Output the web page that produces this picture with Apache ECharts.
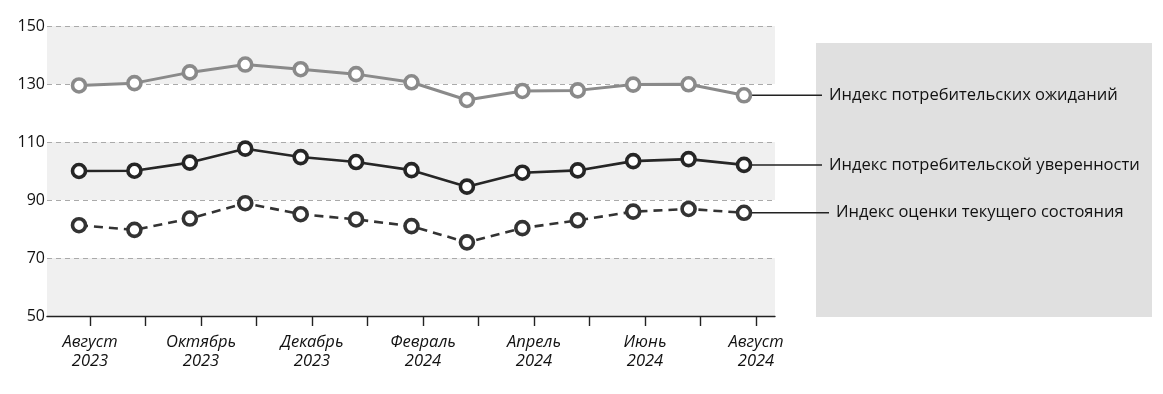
<!DOCTYPE html>
<html>
<head>
<meta charset="utf-8">
<script src="https://cdn.jsdelivr.net/npm/echarts@6/dist/echarts.min.js"></script>
<style>
  html, body { margin: 0; padding: 0; background: #ffffff; }
  #chart { width: 1163px; height: 394px; }
</style>
</head>
<body>
<div id="chart"></div>
<script>
// Monthly consumer sentiment indices, August 2023 – August 2024
const months = [
  'Август 2023', 'Сентябрь 2023', 'Октябрь 2023', 'Ноябрь 2023', 'Декабрь 2023',
  'Январь 2024', 'Февраль 2024', 'Март 2024', 'Апрель 2024', 'Май 2024',
  'Июнь 2024', 'Июль 2024', 'Август 2024'
];
const expectationsIndex = [129.5, 130.3, 134.0, 136.7, 135.1, 133.4, 130.6, 124.5, 127.6, 127.8, 129.8, 129.9, 126.1];
const confidenceIndex   = [100.0, 100.1, 102.9, 107.7, 104.8, 103.1, 100.3, 94.6, 99.4, 100.2, 103.4, 104.1, 102.1];
const currentStateIndex = [81.3, 79.7, 83.6, 88.9, 85.1, 83.3, 81.0, 75.4, 80.3, 83.0, 86.0, 86.9, 85.6];
const seriesNames = [
  'Индекс потребительских ожиданий',
  'Индекс потребительской уверенности',
  'Индекс оценки текущего состояния'
];
const yTicks = { min: 50, max: 150, interval: 20 };

const FONT = '"Open Sans", sans-serif';
const chart = echarts.init(document.getElementById('chart'), null, { renderer: 'canvas' });

const grids = [
  { left: 47, right: 388, top: 26, bottom: 78 },     // bands and axis line
  { left: 79, right: 419, top: 26, bottom: 78 },     // data points
  { left: 90, right: 407, top: 26, bottom: 78 }      // month ticks and labels
];

const lineSeries = (name, data, color, width, type) => ({
  name, type: 'line', data,
  xAxisIndex: 1, yAxisIndex: 1,
  symbol: 'circle', symbolSize: 13,
  lineStyle: { color, width, type },
  itemStyle: { color: '#ffffff', borderColor: color, borderWidth: 3.6 },
  z: 5
});

chart.setOption({
  animation: false,
  textStyle: { fontFamily: FONT },
  grid: grids,
  xAxis: [
    { gridIndex: 0, type: 'value', min: 0, max: 1,
      axisLine: { show: true, lineStyle: { color: '#222222', width: 1.4 } },
      axisTick: { show: false }, axisLabel: { show: false }, splitLine: { show: false } },
    { gridIndex: 1, type: 'category', data: months, boundaryGap: false, show: false },
    { gridIndex: 2, type: 'category', data: months, boundaryGap: false,
      axisLine: { show: false },
      axisTick: { show: true, alignWithLabel: true, interval: 0, length: 10,
                  lineStyle: { color: '#222222', width: 1.4 } },
      axisLabel: { interval: 1, margin: 17, fontFamily: FONT, fontStyle: 'italic',
                   fontSize: 16.5, color: '#111111', lineHeight: 19,
                   formatter: v => v.replace(' ', '\n') },
      splitLine: { show: false } }
  ],
  yAxis: [
    { gridIndex: 0, type: 'value', min: yTicks.min, max: yTicks.max, interval: yTicks.interval,
      axisLine: { show: false }, axisTick: { show: false },
      axisLabel: { margin: 2, fontSize: 16, color: '#111111', fontFamily: FONT },
      splitLine: { show: true, lineStyle: { color: '#aaaaaa', width: 1, type: [5, 4] } },
      splitArea: { show: true, areaStyle: { color: ['#f0f0f0', '#ffffff'] } } },
    { gridIndex: 1, type: 'value', min: yTicks.min, max: yTicks.max, show: false },
    { gridIndex: 2, type: 'value', min: yTicks.min, max: yTicks.max, show: false }
  ],
  series: [
    lineSeries(seriesNames[0], expectationsIndex, '#8a8a8a', 3, 'solid'),
    lineSeries(seriesNames[1], confidenceIndex, '#262626', 2.6, 'solid'),
    lineSeries(seriesNames[2], currentStateIndex, '#333333', 2.6, [9, 6])
  ]
});

// Side panel with leader lines from each series' last point to its name
const lastIdx = months.length - 1;
const seriesData = [expectationsIndex, confidenceIndex, currentStateIndex];
const labelX = [829, 829, 836];
const graphics = [{
  type: 'rect', z: 0, silent: true,
  shape: { x: 816, y: 43, width: 336, height: 274 },
  style: { fill: '#e0e0e0' }
}];
seriesData.forEach((data, i) => {
  const p = chart.convertToPixel({ seriesIndex: i }, [lastIdx, data[lastIdx]]);
  graphics.push({
    type: 'line', z: 2, silent: true,
    shape: { x1: p[0] + 8, y1: p[1], x2: labelX[i] - 7, y2: p[1] },
    style: { stroke: '#222222', lineWidth: 1.5 }
  });
  graphics.push({
    type: 'text', z: 3, silent: true,
    x: labelX[i], y: p[1],
    style: { text: seriesNames[i], fill: '#111111', font: '16.5px ' + FONT,
             textVerticalAlign: 'middle', verticalAlign: 'middle' }
  });
});
chart.setOption({ graphic: graphics });
</script>
</body>
</html>
